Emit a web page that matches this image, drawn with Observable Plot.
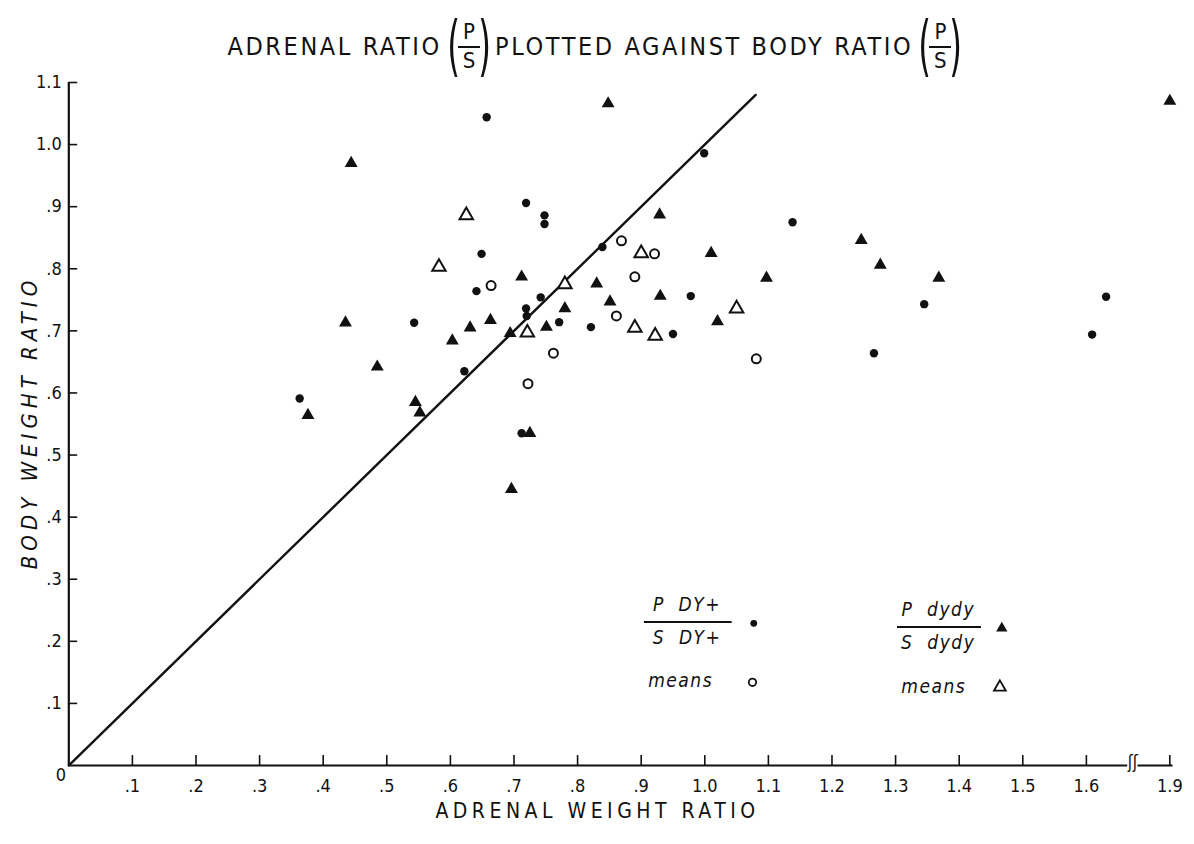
<!DOCTYPE html>
<html>
<head>
<meta charset="utf-8">
<script src="https://cdn.jsdelivr.net/npm/d3@7"></script>
<script src="https://cdn.jsdelivr.net/npm/@observablehq/plot@0.6"></script>
<style>
  html, body { margin: 0; padding: 0; background: #fff; }
  body { width: 1194px; height: 844px; overflow: hidden; color: #111;
         font-family: "DejaVu Sans Condensed", "Liberation Sans Narrow", "DejaVu Sans", sans-serif; font-stretch: condensed; }
  #title { position: relative; height: 60px; }
  #title .row { position: absolute; left: 0; right: 0; top: 17px; height: 58px; display: flex; justify-content: center; align-items: center;
                font-size: 25px; letter-spacing: 2.6px; white-space: pre; }
  .frac { display: inline-flex; align-items: center; margin: 0 6px 0 7px; letter-spacing: 0; }
  .paren { font-size: 66px; line-height: 1; display: inline-block; transform: scaleX(0.55); margin: 0 -7px; font-weight: 300; }
  .fr { display: inline-flex; flex-direction: column; align-items: center; font-size: 22px; line-height: 1.15; }
  .fr .num { border-bottom: 2px solid #111; padding: 0 5px 1px; }
  #chart svg { display: block; }
</style>
</head>
<body>
<div id="title"><div class="row"><span>ADRENAL RATIO</span><span class="frac"><span class="paren">(</span><span class="fr"><span class="num">P</span><span>S</span></span><span class="paren">)</span></span><span>PLOTTED AGAINST BODY RATIO</span><span class="frac"><span class="paren">(</span><span class="fr"><span class="num">P</span><span>S</span></span><span class="paren">)</span></span></div></div>
<div id="chart"></div>
<script>
// ---- tick values and labels ----
const xTicks = [0.1, 0.2, 0.3, 0.4, 0.5, 0.6, 0.7, 0.8, 0.9, 1.0, 1.1, 1.2, 1.3, 1.4, 1.5, 1.6, 1.9];
const xTickLabels = [".1", ".2", ".3", ".4", ".5", ".6", ".7", ".8", ".9", "1.0", "1.1", "1.2", "1.3", "1.4", "1.5", "1.6", "1.9"];
const yTicks = [0.1, 0.2, 0.3, 0.4, 0.5, 0.6, 0.7, 0.8, 0.9, 1.0, 1.1];
const yTickLabels = [".1", ".2", ".3", ".4", ".5", ".6", ".7", ".8", ".9", "1.0", "1.1"];

// ---- P DY+ / S DY+ individual ratios (filled dots) ----
const dyX = [0.363, 0.543, 0.622, 0.641, 0.649, 0.657, 0.719, 0.748, 0.748, 0.719, 0.720, 0.742, 0.771, 0.712, 0.821, 0.839, 0.950, 0.978, 0.999, 1.138, 1.266, 1.345, 1.609, 1.631];
const dyY = [0.591, 0.713, 0.635, 0.764, 0.824, 1.044, 0.906, 0.886, 0.872, 0.736, 0.724, 0.754, 0.714, 0.535, 0.706, 0.835, 0.695, 0.756, 0.986, 0.875, 0.664, 0.743, 0.694, 0.755];
// ---- P DY+ / S DY+ means (open circles) ----
const dyMeanX = [0.664, 0.722, 0.762, 0.861, 0.869, 0.890, 0.921, 1.081];
const dyMeanY = [0.773, 0.615, 0.664, 0.724, 0.845, 0.787, 0.824, 0.655];
// ---- P dydy / S dydy individual ratios (filled triangles) ----
const dydyX = [0.376, 0.435, 0.444, 0.485, 0.545, 0.552, 0.603, 0.631, 0.663, 0.694, 0.712, 0.725, 0.696, 0.751, 0.780, 0.830, 0.851, 0.848, 0.929, 0.930, 1.010, 1.020, 1.097, 1.246, 1.276, 1.368, 1.90];
const dydyY = [0.564, 0.713, 0.970, 0.642, 0.585, 0.568, 0.684, 0.705, 0.717, 0.696, 0.787, 0.535, 0.445, 0.706, 0.736, 0.776, 0.747, 1.066, 0.887, 0.756, 0.825, 0.715, 0.785, 0.846, 0.806, 0.785, 1.07];
// ---- P dydy / S dydy means (open triangles) ----
const dydyMeanX = [0.582, 0.625, 0.721, 0.780, 0.890, 0.900, 0.922, 1.050];
const dydyMeanY = [0.803, 0.886, 0.697, 0.775, 0.705, 0.825, 0.692, 0.736];
// ---- line of equality (y = x) ----
const equalityLine = [0, 1.08];

const pts = (xs, ys) => xs.map((x, i) => ({x, y: ys[i]}));
const ink = "#111";
const FONT = '"DejaVu Sans Condensed", "Liberation Sans Narrow", "DejaVu Sans", sans-serif';

// broken x axis: the stretch between 1.665 and 1.85 is squeezed into a small gap
const BREAK_LO = 1.665, BREAK_HI = 1.85, GAP = 0.0162;
const xBreak = v => v <= BREAK_LO ? v
  : v >= BREAK_HI ? v - (BREAK_HI - BREAK_LO) + GAP
  : BREAK_LO + (v - BREAK_LO) / (BREAK_HI - BREAK_LO) * GAP;

// legend layout (in chart data units)
const legendText = [
  {x: 0.972, y: 0.258, t: "P  DY+"}, {x: 0.972, y: 0.205, t: "S  DY+"}, {x: 0.962, y: 0.137, t: "means"},
  {x: 1.367, y: 0.250, t: "P  dydy"}, {x: 1.367, y: 0.197, t: "S  dydy"}, {x: 1.360, y: 0.127, t: "means"}
];
const legendBars = [{x1: 0.905, x2: 1.043, y: 0.231}, {x1: 1.303, x2: 1.435, y: 0.223}];

const chart = Plot.plot({
  width: 1194,
  height: 784,
  margin: 0,
  style: {background: "none", overflow: "visible", fontFamily: FONT, color: ink},
  x: {type: "linear", transform: xBreak, domain: [0, xBreak(1.905)], range: [68.3, 1172.5], axis: null},
  y: {type: "linear", domain: [0, 1.1], range: [705, 22], axis: null},
  marks: [
    // axes
    Plot.ruleY([0], {x1: 0, x2: BREAK_LO, stroke: ink, strokeWidth: 2.2}),
    Plot.ruleY([0], {x1: BREAK_HI, x2: 1.905, stroke: ink, strokeWidth: 2.2}),
    Plot.text(["ʃʃ"], {x: (BREAK_LO + BREAK_HI) / 2, y: 0, text: d => d, fontSize: 17, dy: -3, fill: ink}),
    Plot.ruleX([0], {y1: 0, y2: 1.1, stroke: ink, strokeWidth: 2.2}),
    Plot.ruleX(xTicks, {x: d => d, y1: 0, y2: 0.016, stroke: ink, strokeWidth: 1.6}),
    Plot.ruleY(yTicks, {y: d => d, x1: 0, x2: 0.014, stroke: ink, strokeWidth: 1.6}),
    Plot.text(xTicks, {x: d => d, y: 0, text: (d, i) => xTickLabels[i], dy: 21, fontSize: 18, fill: ink}),
    Plot.text(yTicks, {x: 0, y: d => d, text: (d, i) => yTickLabels[i], textAnchor: "end", dx: -7, fontSize: 18, fill: ink}),
    Plot.text(["0"], {x: 0, y: 0, text: d => d, dx: -8, dy: 10, fontSize: 18, fill: ink}),
    // axis titles
    Plot.text(["ADRENAL WEIGHT RATIO"], {frameAnchor: "bottom", textAnchor: "middle", lineAnchor: "middle", text: d => d, dy: -33, fontSize: 21, fill: ink}),
    Plot.text(["BODY WEIGHT RATIO"], {frameAnchor: "left", textAnchor: "middle", lineAnchor: "middle", text: d => d, dx: 29, dy: -30, rotate: -90, fontSize: 22, fontStyle: "italic", fill: ink}),
    // line of equality
    Plot.line(equalityLine.map(v => ({x: v, y: v})), {x: "x", y: "y", stroke: ink, strokeWidth: 2.4}),
    // data
    Plot.dot(pts(dyX, dyY), {x: "x", y: "y", r: 4.2, fill: ink, stroke: "none"}),
    Plot.dot(pts(dyMeanX, dyMeanY), {x: "x", y: "y", r: 4.5, fill: "white", stroke: ink, strokeWidth: 2}),
    Plot.dot(pts(dydyX, dydyY), {x: "x", y: "y", symbol: "triangle", r: 4.8, fill: ink, stroke: "none"}),
    Plot.dot(pts(dydyMeanX, dydyMeanY), {x: "x", y: "y", symbol: "triangle", r: 5, fill: "white", stroke: ink, strokeWidth: 2}),
    // legend
    Plot.text(legendText, {x: "x", y: "y", text: "t", fontSize: 19, fontStyle: "italic", fill: ink}),
    Plot.ruleY(legendBars, {x1: "x1", x2: "x2", y: "y", stroke: ink, strokeWidth: 2}),
    Plot.dot([{x: 1.077, y: 0.229}], {x: "x", y: "y", r: 3.4, fill: ink, stroke: "none"}),
    Plot.dot([{x: 1.075, y: 0.134}], {x: "x", y: "y", r: 3.7, fill: "white", stroke: ink, strokeWidth: 1.8}),
    Plot.dot([{x: 1.467, y: 0.221}], {x: "x", y: "y", symbol: "triangle", r: 4.2, fill: ink, stroke: "none"}),
    Plot.dot([{x: 1.464, y: 0.126}], {x: "x", y: "y", symbol: "triangle", r: 4.4, fill: "white", stroke: ink, strokeWidth: 1.8})
  ]
});
// letter spacing for the lettered axis titles
chart.querySelectorAll("text").forEach(t => {
  if (t.textContent === "ADRENAL WEIGHT RATIO") t.setAttribute("letter-spacing", "4.5");
  if (t.textContent === "BODY WEIGHT RATIO") t.setAttribute("letter-spacing", "5");
  if (/^(P|S)  |means/.test(t.textContent)) t.setAttribute("letter-spacing", "1.5");
});
document.getElementById("chart").appendChild(chart);
</script>
</body>
</html>
